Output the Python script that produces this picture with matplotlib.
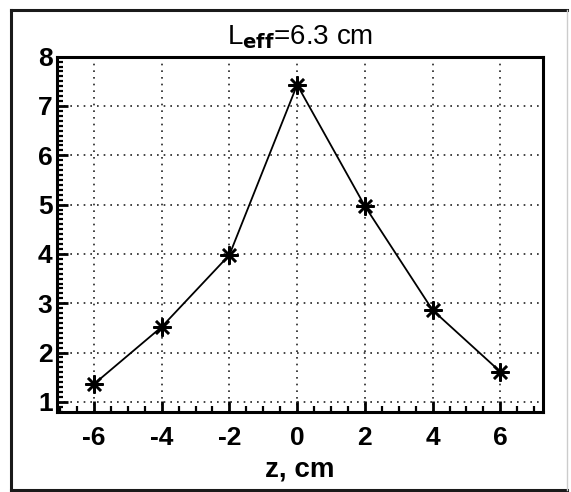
import numpy as np
import matplotlib.pyplot as plt
from matplotlib.patches import Rectangle
from matplotlib.lines import Line2D
from matplotlib.ticker import MultipleLocator

plt.rcParams['font.family'] = ['Liberation Sans', 'DejaVu Sans']
plt.rcParams['axes.unicode_minus'] = False

# position along the axis (cm) and measured value
z = [-6, -4, -2, 0, 2, 4, 6]
val = [1.36, 2.52, 3.98, 7.43, 4.97, 2.86, 1.61]
xticks = [-6, -4, -2, 0, 2, 4, 6]
yticks = [1, 2, 3, 4, 5, 6, 7, 8]

fig = plt.figure(figsize=(5.71, 4.92), dpi=100)
ax = fig.add_axes([0.0993, 0.1632, 0.8511, 0.7216])

ax.plot(z, val, color='black', linewidth=1.3, marker=(8, 2, 0), markersize=13,
        markeredgewidth=1.8, zorder=3)

ax.set_xlim(-7.1, 7.25)
ax.set_ylim(0.8, 8)
ax.set_xticks(xticks)
ax.set_yticks(yticks)
ax.xaxis.set_minor_locator(MultipleLocator(0.5))
ax.yaxis.set_minor_locator(MultipleLocator(0.1))

ax.grid(True, which='major', color='#222222', linestyle=(0, (1, 3)), linewidth=1.2)

ax.tick_params(which='both', direction='in', top=False, right=False, color='black')
ax.tick_params(which='major', length=8, width=2)
ax.tick_params(which='minor', length=4, width=1.6)
ax.tick_params(axis='x', which='major', labelsize=19, pad=10)
ax.tick_params(axis='y', which='major', labelsize=19, pad=3)
for lab in ax.get_xticklabels() + ax.get_yticklabels():
    lab.set_fontweight('bold')

for s in ax.spines.values():
    s.set_linewidth(2.2)

ax.set_xlabel('z, cm', fontsize=20, fontweight='bold', labelpad=5)
ax.set_title(r'L$_{\mathbf{eff}}$=6.3 cm', fontsize=20, pad=9)

# outer frame around the picture: dark on three sides, faint on the right
W, H = 571, 492
x0, x1, y0, y1 = 11 / W, 567 / W, 1 - 10 / H, 1 - 489.5 / H
for xs, ys in [((x0, x0), (y0, y1)), ((x0, x1), (y0, y0)), ((x0, x1), (y1, y1))]:
    fig.add_artist(Line2D(xs, ys, transform=fig.transFigure, color='#1a1a1a', linewidth=2.2))
fig.add_artist(Line2D((x1, x1), (y0, y1), transform=fig.transFigure, color='#cccccc', linewidth=1.0))

fig.savefig('out.png', dpi=100)
